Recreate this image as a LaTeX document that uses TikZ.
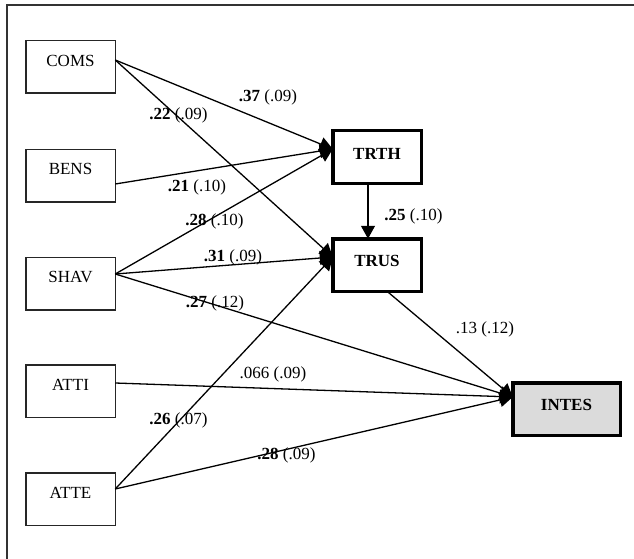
\documentclass[tikz,border=0pt]{standalone}
\usepackage{fontspec}
\setmainfont{Liberation Serif}
\usetikzlibrary{arrows.meta}
\begin{document}
\begin{tikzpicture}[x=1pt,y=-1pt,
  txt/.style={font=\fontsize{17}{20}\selectfont},
  lbox/.style={draw=black!85,line width=1.5pt,minimum width=89.5pt,minimum height=52.5pt,outer sep=0pt,inner sep=0pt},
  rbox/.style={draw=black,line width=3.5pt,minimum width=88.5pt,minimum height=52.5pt,outer sep=0pt,inner sep=0pt},
  conn/.style={line width=1.3pt,-{Triangle[length=13pt,width=14pt]}},
  wt/.style={txt,inner sep=0pt}
]
\useasboundingbox (0,0) rectangle (634,559);
\draw[line width=1.5pt,black!80] (634,5) -- (7,5) -- (7,559);

% left boxes
\node[lbox,label={[txt,anchor=center,yshift=-20pt]north:COMS}] (coms) at (70.5,67) {};
\node[lbox,label={[txt,anchor=center,yshift=-20pt]north:BENS}] (bens) at (70.5,175.5) {};
\node[lbox,label={[txt,anchor=center,yshift=-20pt]north:SHAV}] (shav) at (70.5,283.5) {};
\node[lbox,label={[txt,anchor=center,yshift=-20pt]north:ATTI}] (atti) at (70.5,391) {};
\node[lbox,label={[txt,anchor=center,yshift=-20pt]north:ATTE}] (atte) at (70.5,499) {};

% right boxes
\node[rbox,label={[txt,anchor=center,yshift=-23pt,font=\fontsize{17}{20}\selectfont\bfseries]north:TRTH}] (trth) at (377,157) {};
\node[rbox,label={[txt,anchor=center,yshift=-22pt,font=\fontsize{17}{20}\selectfont\bfseries]north:TRUS}] (trus) at (377,265) {};
\node[rbox,fill=black!14,minimum width=107.5pt,label={[txt,anchor=center,yshift=-22pt,font=\fontsize{17}{20}\selectfont\bfseries]north:INTES}] (intes) at (566.5,409) {};

% connector end points
\coordinate (comsR) at ([yshift=7pt]coms.east);
\coordinate (bensR) at ([yshift=-8.5pt]bens.east);
\coordinate (shavR) at ([yshift=9.5pt]shav.east);
\coordinate (attiR) at ([yshift=8pt]atti.east);
\coordinate (atteR) at ([yshift=10pt]atte.east);
\coordinate (trthL) at ([yshift=8pt]trth.west);
\coordinate (trusL) at ([yshift=8pt]trus.west);
\coordinate (intesL) at ([yshift=12pt]intes.west);
\coordinate (trthB) at ([xshift=-9pt]trth.south);
\coordinate (trusT) at ([xshift=-9pt]trus.north);
\coordinate (trusB) at ([xshift=10pt]trus.south);

% connectors
\draw[conn] (comsR) -- (trthL);
\draw[conn] (bensR) -- (trthL);
\draw[conn] (shavR) -- (trthL);
\draw[conn] (comsR) -- (trusL);
\draw[conn] (shavR) -- (trusL);
\draw[conn] (atteR) -- (trusL);
\draw[conn] (shavR) -- (intesL);
\draw[conn] (attiR) -- (intesL);
\draw[conn] (atteR) -- (intesL);
\draw[conn] (trusB) -- (intesL);
\draw[conn] (trthB) -- (trusT);

% weights
\node[wt] (w1) at (268,97) {\textbf{.37} (.09)};
\node[wt] (w2) at (178.5,115) {\textbf{.22} (.09)};
\node[wt] (w3) at (197,187) {\textbf{.21} (.10)};
\node[wt] (w4) at (214.5,221) {\textbf{.28} (.10)};
\node[wt] (w5) at (233,257) {\textbf{.31} (.09)};
\node[wt] (w6) at (413.5,216) {\textbf{.25} (.10)};
\node[wt] (w7) at (215,303) {\textbf{.27} (.12)};
\node[wt] (w8) at (273,374) {.066 (.09)};
\node[wt] (w9) at (178.5,420) {\textbf{.26} (.07)};
\node[wt] (w10) at (286.5,455) {\textbf{.28} (.09)};
\node[wt] (w11) at (485,329) {.13 (.12)};
\end{tikzpicture}
\end{document}
